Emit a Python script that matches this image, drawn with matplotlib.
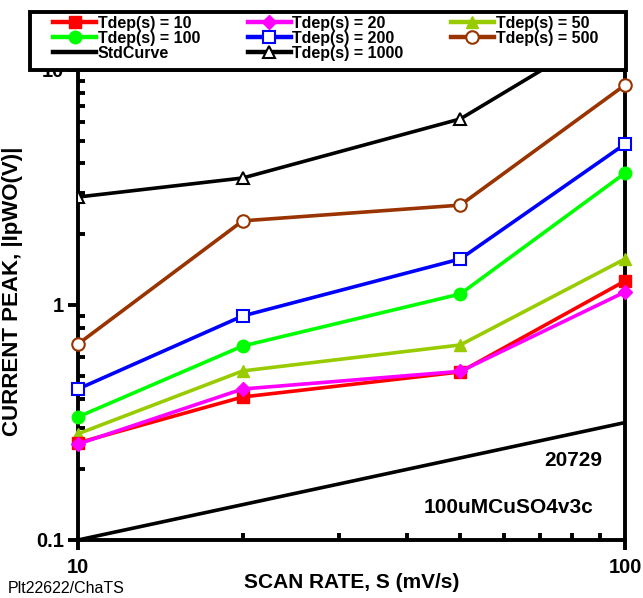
import numpy as np
import matplotlib
matplotlib.use('Agg')
import matplotlib.pyplot as plt
from matplotlib.patches import Rectangle
from matplotlib.ticker import LogLocator, NullFormatter, FixedLocator, FixedFormatter

plt.rcParams['font.family'] = ['Liberation Sans', 'DejaVu Sans']

# Scan rates (mV/s)
scan_rate = [10, 20, 50, 100]

# Peak current per deposition time
tdep_10 = [0.259, 0.406, 0.519, 1.265]
tdep_20 = [0.256, 0.439, 0.522, 1.136]
tdep_50 = [0.283, 0.524, 0.676, 1.57]
tdep_100 = [0.334, 0.669, 1.114, 3.64]
tdep_200 = [0.439, 0.898, 1.57, 4.84]
tdep_500 = [0.682, 2.28, 2.66, 8.63]
tdep_1000 = [2.88, 3.47, 6.19, 16.3]

# Standard curve
std_x = [10, 100]
std_y = [0.1, 0.316]

fig = plt.figure(figsize=(6.43, 5.98), dpi=100)
ax = fig.add_axes([0.1213, 0.097, 0.8507, 0.786])

lw = 2.6
h10, = ax.plot(scan_rate, tdep_10, '-s', color='#ff0000', lw=lw, ms=8, label='Tdep(s) = 10', clip_on=False, zorder=5)
h20, = ax.plot(scan_rate, tdep_20, '-D', color='#ff00ff', lw=lw, ms=7, label='Tdep(s) = 20', clip_on=False, zorder=6)
h50, = ax.plot(scan_rate, tdep_50, '-^', color='#99cc00', lw=lw, ms=9, label='Tdep(s) = 50', clip_on=False, zorder=4)
h100, = ax.plot(scan_rate, tdep_100, '-o', color='#00ff00', lw=lw, ms=9, label='Tdep(s) = 100', clip_on=False, zorder=4)
h200, = ax.plot(scan_rate, tdep_200, '-s', color='#0000ff', lw=lw, ms=9, mfc='white', mew=1.5,
                label='Tdep(s) = 200', clip_on=False, zorder=4)
h500, = ax.plot(scan_rate, tdep_500, '-o', color='#993300', lw=lw, ms=9, mfc='white', mew=1.5,
                label='Tdep(s) = 500', clip_on=False, zorder=4)
hstd, = ax.plot(std_x, std_y, '-', color='black', lw=lw, label='StdCurve', zorder=4)
h1000, = ax.plot(scan_rate, tdep_1000, '-^', color='black', lw=lw, ms=9, mfc='white', mew=1.5,
                 label='Tdep(s) = 1000', zorder=4)

ax.set_xscale('log')
ax.set_yscale('log')
ax.set_xlim(10, 100)
ax.set_ylim(0.1, 10)

for s in ax.spines.values():
    s.set_linewidth(2.8)

ax.xaxis.set_major_locator(FixedLocator([10, 100]))
ax.xaxis.set_major_formatter(FixedFormatter(['10', '100']))
ax.xaxis.set_minor_locator(LogLocator(base=10, subs=np.arange(2, 10)))
ax.xaxis.set_minor_formatter(NullFormatter())
ax.yaxis.set_major_locator(FixedLocator([0.1, 1, 10]))
ax.yaxis.set_major_formatter(FixedFormatter(['0.1', '1', '10']))
ax.yaxis.set_minor_locator(LogLocator(base=10, subs=np.arange(2, 10)))
ax.yaxis.set_minor_formatter(NullFormatter())

ax.tick_params(which='major', direction='out', length=7, width=2.8, labelsize=14.5)
ax.tick_params(which='minor', direction='in', length=5, width=2.8)
ax.tick_params(axis='x', which='major', pad=6)
ax.tick_params(axis='y', which='major', pad=3)
for lab in ax.get_xticklabels() + ax.get_yticklabels():
    lab.set_fontweight('bold')

ax.set_xlabel('SCAN RATE, S (mV/s)', fontsize=15, fontweight='bold', labelpad=-3)
ax.set_ylabel('CURRENT PEAK, |IpWO(V)|', fontsize=16, fontweight='bold')
ax.yaxis.set_label_coords(-0.1, 0.53)

ax.text(0.958, 0.17, '20729', transform=ax.transAxes, fontsize=15, fontweight='bold',
        ha='right', va='center')
ax.text(0.943, 0.07, '100uMCuSO4v3c', transform=ax.transAxes, fontsize=15, fontweight='bold',
        ha='right', va='center')
fig.text(0.012, 0.003, 'Plt22622/ChaTS', fontsize=11.5, ha='left', va='bottom')

# legend, filled row by row like the reference
handles = [h10, h100, hstd, h20, h200, h1000, h50, h500]
frame = Rectangle((30 / 643, 1 - 70 / 598), 596 / 643, 58 / 598, transform=fig.transFigure,
                  facecolor='white', edgecolor='black', lw=2.8, zorder=9)
fig.patches.append(frame)
leg = fig.legend(handles=handles, labels=[h.get_label() for h in handles],
                 loc='upper left', bbox_to_anchor=(53 / 643, 1 - 16 / 598, 545 / 643, 0),
                 mode='expand', borderaxespad=0, ncol=3, frameon=False,
                 handlelength=2.7, handletextpad=0.1, labelspacing=0.0, borderpad=0,
                 prop={'weight': 'bold', 'size': 11.5})
leg.set_zorder(10)
for line in leg.get_lines():
    line.set_linewidth(3.2)

fig.savefig('out.png', dpi=100)
